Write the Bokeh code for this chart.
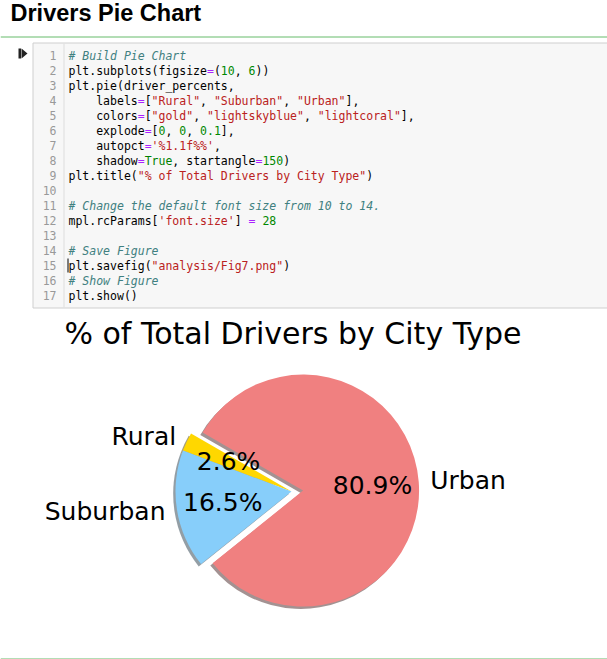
import re
import numpy as np
from bokeh.plotting import figure
from bokeh.models import Range1d
from bokeh.core.properties import value
from bokeh.embed import file_html
from bokeh.resources import INLINE

W, H = 607, 659

# ---------------- data ----------------
city_types = ["Rural", "Suburban", "Urban"]
driver_percents = [2.6, 16.5, 80.9]
pie_colors = ["#FFD700", "#87CEFA", "#F08080"]  # gold, lightskyblue, lightcoral
explode = [0, 0, 0.1]
start_angle_deg = 150

page_title = "Drivers Pie Chart"
chart_title = "% of Total Drivers by City Type"

code_lines = [
    "# Build Pie Chart",
    "plt.subplots(figsize=(10, 6))",
    "plt.pie(driver_percents,",
    "    labels=[\"Rural\", \"Suburban\", \"Urban\"],",
    "    colors=[\"gold\", \"lightskyblue\", \"lightcoral\"],",
    "    explode=[0, 0, 0.1],",
    "    autopct='%1.1f%%',",
    "    shadow=True, startangle=150)",
    "plt.title(\"% of Total Drivers by City Type\")",
    "",
    "# Change the default font size from 10 to 14.",
    "mpl.rcParams['font.size'] = 28",
    "",
    "# Save Figure",
    "plt.savefig(\"analysis/Fig7.png\")",
    "# Show Figure",
    "plt.show()",
]


def sy(y):
    """screen y (top-down) -> data y (bottom-up)"""
    return H - y


p = figure(width=W, height=H, x_range=Range1d(0, W), y_range=Range1d(0, H),
           toolbar_location=None, output_backend="svg", min_border=0)
p.axis.visible = False
p.xgrid.visible = False
p.ygrid.visible = False
p.outline_line_color = None
p.background_fill_color = "white"
p.border_fill_color = "white"

# ---------------- page header ----------------
p.text(x=[10], y=[sy(12.5)], text=[page_title], text_font=value("Liberation Sans"),
       text_font_size=value("23.5px"), text_font_style="bold", text_color="#000000",
       text_baseline="middle", text_align="left")
p.segment(x0=[0], x1=[W], y0=[sy(36.5)], y1=[sy(36.5)], line_color="#66BB6A", line_width=1)
p.segment(x0=[0], x1=[W], y0=[sy(658.5)], y1=[sy(658.5)], line_color="#66BB6A", line_width=1)

# ---------------- code cell ----------------
box_top, box_bot, box_left, gutter_x = 42.5, 307.5, 32.5, 63.5
p.quad(left=[box_left], right=[W + 5], top=[sy(box_top)], bottom=[sy(box_bot)],
       fill_color="#f7f7f7", line_color="#cfcfcf", line_width=1)
p.segment(x0=[gutter_x], x1=[gutter_x], y0=[sy(box_top + 0.5)], y1=[sy(box_bot - 0.5)],
          line_color="#dddddd", line_width=1)
# run icon
p.quad(left=[18], right=[20.5], top=[sy(48)], bottom=[sy(58)], fill_color="#222222", line_color=None)
p.patch(x=[21, 21, 27], y=[sy(48), sy(58), sy(53)], fill_color="#222222", line_color=None)

fs_code = 11.5
char_w = 0.6021 * fs_code
code_x0, line0_y, line_h = 68, 55, 15

tok_re = re.compile(r"(#.*)|(\"[^\"]*\"|'[^']*')|(\b\d+(?:\.\d+)?\b)|(=)|(\bTrue\b)|([^#\"'=\d]+|.)")
groups = {"normal": ([], [], [], []), "italic": ([], [], [], []), "bold": ([], [], [], [])}
for i, line in enumerate(code_lines):
    yy = sy(line0_y + i * line_h)
    for m in tok_re.finditer(line):
        txt = m.group(0)
        if not txt.strip():
            continue
        col = m.start()
        style = "normal"
        if m.group(1):
            color, style = "#408080", "italic"
        elif m.group(2):
            color = "#BA2121"
        elif m.group(3):
            color = "#008800"
        elif m.group(4):
            color = "#AA22FF"
        elif m.group(5):
            color = "#008000"
        else:
            color = "#000000"
        lead = len(txt) - len(txt.lstrip(" "))
        g = groups[style]
        g[0].append(code_x0 + (col + lead) * char_w)
        g[1].append(yy)
        g[2].append(txt.strip(" ") if lead else txt.rstrip(" "))
        g[3].append(color)

for style, (xs, ys, ts, cs) in groups.items():
    if xs:
        p.text(x=xs, y=ys, text=ts, text_color=cs, text_font=value("DejaVu Sans Mono"),
               text_font_size=value(f"{fs_code}px"), text_font_style=style,
               text_baseline="middle", text_align="left")

# line numbers
p.text(x=[56] * len(code_lines), y=[sy(line0_y + i * line_h) for i in range(len(code_lines))],
       text=[str(i + 1) for i in range(len(code_lines))], text_color="#999999",
       text_font=value("DejaVu Sans Mono"), text_font_size=value(f"{fs_code}px"),
       text_baseline="middle", text_align="right")
# cursor (line 15)
cur_y = line0_y + 14 * line_h
p.segment(x0=[67.5], x1=[67.5], y0=[sy(cur_y - 7)], y1=[sy(cur_y + 7)], line_color="#000000", line_width=1)

# ---------------- pie chart ----------------
cx, cy, R = 291.0, sy(491), 116.0
vals = np.array(driver_percents, dtype=float)
frac = vals / vals.sum()
ends = start_angle_deg + np.cumsum(frac) * 360.0
starts = ends - frac * 360.0
mids = np.deg2rad((starts + ends) / 2.0)
ex = np.array(explode, dtype=float)
wx = cx + ex * R * np.cos(mids)
wy = cy + ex * R * np.sin(mids)


def dark(hexc):
    r, g, b = (int(hexc[i:i + 2], 16) for i in (1, 3, 5))
    return "#%02x%02x%02x" % (int(r * 0.3), int(g * 0.3), int(b * 0.3))


# shadows (matplotlib-like: offset -0.02R, colour 0.3*face, alpha 0.5)
p.wedge(x=list(wx - 0.02 * R), y=list(wy - 0.02 * R), radius=R,
        start_angle=list(np.deg2rad(starts)), end_angle=list(np.deg2rad(ends)),
        fill_color=[dark(c) for c in pie_colors], fill_alpha=0.5, line_color=None)
p.wedge(x=list(wx), y=list(wy), radius=R,
        start_angle=list(np.deg2rad(starts)), end_angle=list(np.deg2rad(ends)),
        fill_color=pie_colors, line_color=None)

lab_font = value("DejaVu Sans")
for i, name in enumerate(city_types):
    lx = wx[i] + 1.1 * R * np.cos(mids[i])
    ly = wy[i] + 1.1 * R * np.sin(mids[i])
    p.text(x=[lx], y=[ly], text=[name], text_font=lab_font, text_font_size=value("25px"),
           text_color="#000000", text_baseline="middle",
           text_align="left" if np.cos(mids[i]) > 0 else "right")
    px = wx[i] + 0.6 * R * np.cos(mids[i])
    py = wy[i] + 0.6 * R * np.sin(mids[i])
    p.text(x=[px], y=[py], text=[f"{frac[i] * 100:.1f}%"], text_font=lab_font,
           text_font_size=value("25px"), text_color="#000000",
           text_baseline="middle", text_align="center")

p.text(x=[292.5], y=[sy(333)], text=[chart_title], text_font=lab_font,
       text_font_size=value("30px"), text_color="#000000",
       text_baseline="middle", text_align="center")

open("out.html", "w").write(file_html(p, INLINE))
